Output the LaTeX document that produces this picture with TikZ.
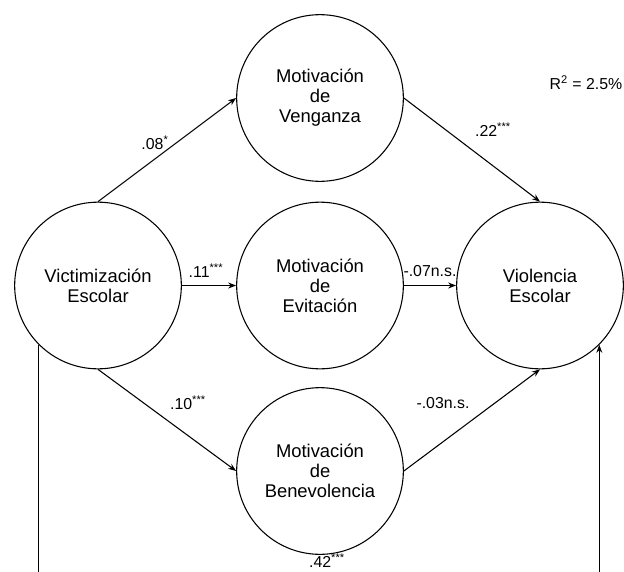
\documentclass[tikz,border=0pt]{standalone}
\usepackage{fontspec}
\setmainfont{Liberation Sans}
\usetikzlibrary{arrows.meta}
\begin{document}
\begin{tikzpicture}[x=0.75pt,y=-0.75pt,
                    latent/.style={circle,draw,line width=0.8pt,minimum size=125pt,inner sep=0pt,
                                   align=center,font=\fontsize{13.8}{15}\selectfont},
                    effect/.style={-{Stealth[length=6pt,width=4.5pt]},line width=0.8pt},
                    coef/.style={inner sep=0pt,font=\fontsize{11.9}{14}\selectfont}]
\path[use as bounding box,clip] (0,0) rectangle (624,571);

\node[latent] (vict) at (98,285.5) {Victimización\\Escolar};
\node[latent] (veng) at (320,98) {Motivación\\de\\Venganza};
\node[latent] (evit) at (320,285.5) {Motivación\\de\\Evitación};
\node[latent] (bene) at (320,471) {Motivación\\de\\Benevolencia};
\node[latent] (viol) at (540,285.5) {Violencia\\Escolar};

\node[coef] (b1) at (155,143) {.08\textsuperscript{*}};
\node[coef] (b2) at (493,130) {.22\textsuperscript{***}};
\node[coef] (b3) at (206,271) {.11\textsuperscript{***}};
\node[coef] (b4) at (430,271) {-.07n.s.};
\node[coef] (b5) at (188,403) {.10\textsuperscript{***}};
\node[coef] (b6) at (443,403) {-.03n.s.};
\node[coef] (b7) at (327,561) {.42\textsuperscript{***}};
\node[coef] (rsq) at (586,83) {R\textsuperscript{2} = 2.5\%};

\draw[effect] (vict.north) -- (veng.west);
\draw[effect] (vict.east) -- (evit.west);
\draw[effect] (vict.south) -- (bene.west);
\draw[effect] (veng.east) -- (viol.north);
\draw[effect] (evit.east) -- (viol.west);
\draw[effect] (bene.east) -- (viol.south);
\coordinate (floor) at (320,600);
\draw[effect] (vict.south west) |- (floor) -| (viol.south east);
\end{tikzpicture}
\end{document}
